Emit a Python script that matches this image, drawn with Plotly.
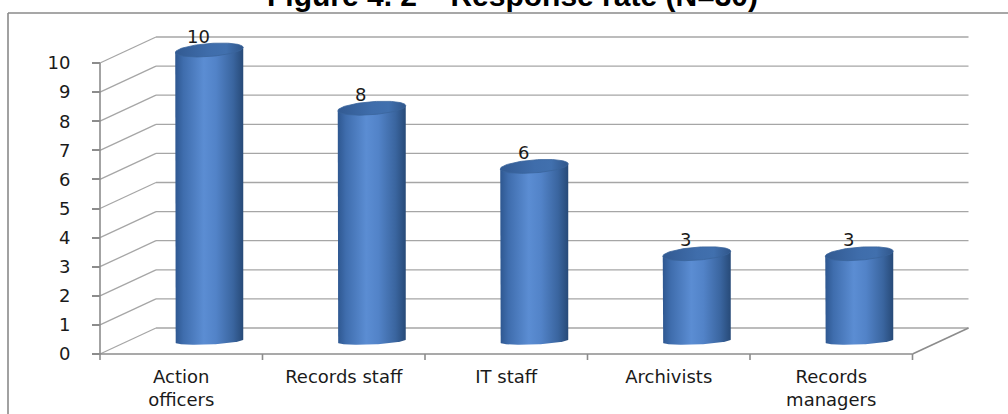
import numpy as np
import plotly.graph_objects as go

# ---------------- data ----------------
categories = ["Action officers", "Records staff", "IT staff", "Archivists", "Records managers"]
category_labels = ["Action<br>officers", "Records staff", "IT staff", "Archivists", "Records<br>managers"]
responses = [10, 8, 6, 3, 3]
y_ticks = [0, 1, 2, 3, 4, 5, 6, 7, 8, 9, 10]
title_text = "Figure 4. 2 – Response rate (N=30)"

# ---------------- geometry (pixels) ----------------
W, H = 1008, 414
PX_X0 = 100      # left edge of the front floor
PX_CAT = 162.5   # pixels per category
PX_Y0 = 354      # value 0 on front wall
PX_UNIT = 29.1   # pixels per unit of value

x_range = [(0 - PX_X0) / PX_CAT - 0.5, (W - PX_X0) / PX_CAT - 0.5]
y_range = [(PX_Y0 - H) / PX_UNIT, PX_Y0 / PX_UNIT]

DX = 56 / PX_CAT        # depth offset in x units
DY = 26 / PX_UNIT       # depth offset in y units
n = len(categories)
xl, xr = -0.5, n - 0.5
ymax = max(y_ticks)

RX = 34 / PX_CAT                 # cylinder radius (x units)
RY_TOP = 6.5 / PX_UNIT           # top ellipse vertical radius
RY_BOT = 3.5 / PX_UNIT           # bottom arc vertical radius
TILT_TOP = 2.5 / PX_UNIT
TILT_BOT = 1.5 / PX_UNIT

grid_line = dict(color="#A6A6A6", width=1.3)
axis_line = dict(color="#8C8C8C", width=1.6)

shapes = []
for v in y_ticks:
    shapes.append(dict(type="line", xref="x", yref="y", x0=xl + DX, y0=v + DY, x1=xr + DX, y1=v + DY,
                       line=grid_line, layer="below"))
    shapes.append(dict(type="line", xref="x", yref="y", x0=xl, y0=v, x1=xl + DX, y1=v + DY,
                       line=grid_line, layer="below"))
# right floor edge
shapes.append(dict(type="line", xref="x", yref="y", x0=xr, y0=0, x1=xr + DX, y1=DY,
                   line=axis_line, layer="below"))
# front axes
shapes.append(dict(type="line", xref="x", yref="y", x0=xl, y0=0, x1=xl, y1=ymax, line=axis_line))
shapes.append(dict(type="line", xref="x", yref="y", x0=xl, y0=0, x1=xr, y1=0, line=axis_line))
for k in range(n + 1):
    shapes.append(dict(type="line", xref="x", yref="y", x0=xl + k, y0=0, x1=xl + k, y1=-6 / PX_UNIT,
                       line=axis_line))
# outer chart border
border = dict(color="#8A8A8A", width=1.6)
shapes.append(dict(type="line", xref="paper", yref="paper", x0=8 / W, y0=0, x1=8 / W, y1=1 - 13 / H, line=border))
shapes.append(dict(type="line", xref="paper", yref="paper", x0=8 / W, y0=1 - 13 / H, x1=1, y1=1 - 13 / H, line=border))

body_scale = [[0.0, "#2E5790"], [0.12, "#3F6DAD"], [0.42, "#5B8DD3"], [0.6, "#5283C8"],
              [0.85, "#3A659F"], [1.0, "#274A78"]]
top_scale = [[0.0, "#325A92"], [0.5, "#3F6DAB"], [0.75, "#4170AE"], [1.0, "#30568A"]]

fig = go.Figure()
t_front = np.linspace(np.pi, 2 * np.pi, 60)
t_full = np.linspace(0, 2 * np.pi, 120)
annotations = []
for i, (cat, v) in enumerate(zip(categories, responses)):
    cx = i + DX / 2
    cy0 = DY / 2
    cy1 = v + DY / 2
    # body outline
    bx = [cx - RX]
    by = [cy1 - TILT_TOP]
    bx += list(cx + RX * np.cos(t_front))
    by += list(cy0 + RY_BOT * np.sin(t_front) + TILT_BOT * np.cos(t_front))
    bx += [cx + RX]
    by += [cy1 + TILT_TOP]
    bx.append(cx - RX)
    by.append(cy1 - TILT_TOP)
    fig.add_trace(go.Scatter(
        x=bx, y=by, mode="lines", fill="toself", line=dict(width=0, color="rgba(0,0,0,0)"),
        fillgradient=dict(type="horizontal", colorscale=body_scale),
        hoverinfo="skip", showlegend=False, name=cat))
    # top ellipse
    tx = cx + RX * np.cos(t_full)
    ty = cy1 + RY_TOP * np.sin(t_full) + TILT_TOP * np.cos(t_full)
    fig.add_trace(go.Scatter(
        x=tx, y=ty, mode="lines", fill="toself", line=dict(width=0.8, color="#3A649C"),
        fillgradient=dict(type="horizontal", colorscale=top_scale),
        hoverinfo="skip", showlegend=False, name=cat))
    annotations.append(dict(x=cx, y=cy1, xref="x", yref="y", text=str(v), showarrow=False,
                            xshift=-11, yshift=14, yanchor="middle",
                            font=dict(family="DejaVu Sans", size=18, color="#1A1A1A")))

annotations.append(dict(x=512 / W, y=1, xref="paper", yref="paper", text="<b>" + title_text + "</b>",
                        showarrow=False, xanchor="center", yanchor="middle", yshift=5,
                        font=dict(family="Liberation Sans, Arial", size=30, color="#000000")))

tick_font = dict(family="DejaVu Sans", size=18, color="#1A1A1A")
fig.update_layout(
    width=W, height=H, margin=dict(l=0, r=0, t=0, b=0),
    paper_bgcolor="white", plot_bgcolor="white",
    shapes=shapes, annotations=annotations, showlegend=False,
    xaxis=dict(range=x_range, anchor="free", position=(H - PX_Y0) / H, tickvals=list(range(n)),
               ticktext=category_labels, ticks="", showline=False, showgrid=False, zeroline=False,
               tickfont=tick_font, ticklabelstandoff=10, automargin=False, fixedrange=True),
    yaxis=dict(range=y_range, anchor="free", position=PX_X0 / W, side="left", tickvals=y_ticks,
               ticks="outside", ticklen=8, tickwidth=1.6, tickcolor="#8C8C8C",
               showline=False, showgrid=False, zeroline=False, tickfont=tick_font,
               ticklabelstandoff=18, automargin=False, fixedrange=True),
)
fig.write_html("out.html", config={"displayModeBar": False},
               post_script="document.body.style.margin='0';document.body.style.overflow='hidden';")
